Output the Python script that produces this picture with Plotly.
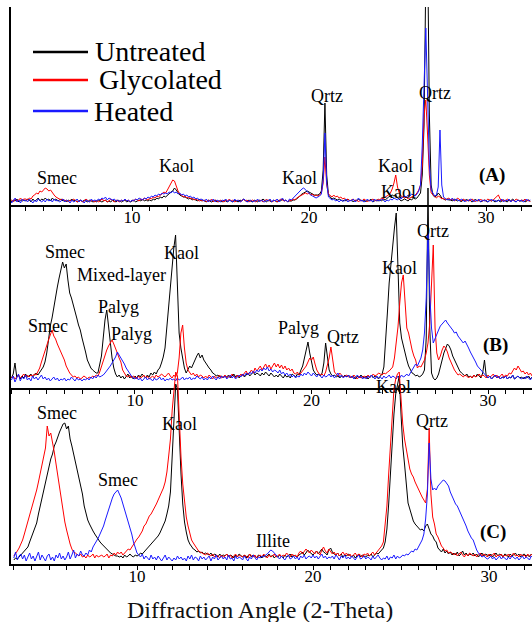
import numpy as np
import plotly.graph_objects as go

# 2-theta sampling grid (degrees), 0.1 deg step, 3.0 .. 32.5
two_theta = np.round(3.0 + 0.1 * np.arange(296), 1)

# ---------------- Panel (A) intensities (arbitrary units) ----------------
untreated_A = [
    4, 6, 3, 5, 4, 6, 3, 5, 4, 5,
    4, 6, 5, 3, 6, 4, 5, 7, 4, 6,
    5, 7, 5, 6, 4, 7, 5, 6, 4, 5,
    6, 4, 5, 3, 5, 4, 6, 4, 5, 3,
    4, 5, 3, 5, 4, 3, 5, 4, 3, 4,
    3, 5, 4, 3, 4, 5, 3, 4, 3, 5,
    4, 3, 5, 4, 3, 4, 5, 3, 4, 3,
    4, 5, 3, 4, 5, 4, 6, 4, 5, 4,
    5, 4, 6, 5, 7, 6, 8, 7, 9, 8,
    10, 11, 13, 14, 17, 15, 12, 10, 9, 8,
    8, 7, 6, 7, 5, 6, 5, 4, 6, 4,
    5, 4, 3, 5, 4, 3, 4, 5, 3, 4,
    4, 3, 5, 4, 3, 5, 4, 3, 5, 4,
    3, 5, 4, 6, 4, 3, 5, 4, 3, 5,
    4, 3, 5, 4, 6, 4, 3, 5, 4, 3,
    5, 4, 3, 5, 4, 6, 4, 5, 3, 4,
    4, 5, 5, 6, 8, 10, 11, 12, 13, 14,
    13, 12, 11, 10, 10, 10, 11, 14, 35, 102,
    30, 10, 8, 6, 7, 6, 5, 6, 5, 4,
    5, 4, 6, 4, 5, 3, 5, 4, 6, 5,
    4, 5, 3, 5, 4, 6, 3, 4, 5, 4,
    5, 4, 6, 5, 7, 8, 9, 10, 9, 10,
    7, 6, 4, 5, 6, 5, 4, 6, 5, 7,
    6, 7, 9, 12, 30, 80, 230, 260, 90, 20,
    10, 8, 9, 12, 10, 7, 6, 5, 6, 5,
    5, 4, 6, 5, 4, 5, 3, 5, 4, 6,
    4, 5, 3, 4, 6, 4, 5, 3, 4, 5,
    4, 3, 5, 4, 5, 3, 4, 5, 3, 4,
    5, 4, 3, 5, 4, 6, 4, 3, 5, 4,
    4, 5, 3, 4, 5, 4,
]
glycolated_A = [
    4, 6, 5, 3, 6, 4, 5, 7, 5, 6,
    6, 5, 7, 6, 9, 10, 12, 11, 14, 13,
    15, 17, 16, 14, 15, 12, 10, 8, 7, 6,
    5, 6, 4, 5, 3, 5, 4, 6, 4, 3,
    4, 5, 3, 4, 6, 4, 3, 5, 4, 3,
    5, 3, 4, 6, 4, 5, 3, 4, 6, 4,
    3, 5, 4, 3, 5, 4, 6, 4, 5, 3,
    5, 4, 6, 5, 4, 6, 5, 7, 6, 5,
    7, 6, 8, 7, 9, 8, 10, 11, 13, 12,
    15, 18, 22, 25, 24, 18, 14, 11, 10, 8,
    9, 7, 8, 6, 7, 5, 6, 5, 4, 5,
    4, 5, 3, 5, 4, 6, 3, 5, 4, 3,
    5, 4, 3, 5, 4, 6, 4, 5, 3, 4,
    5, 3, 4, 6, 4, 5, 3, 4, 5, 4,
    3, 5, 4, 5, 3, 4, 6, 4, 5, 3,
    4, 5, 3, 4, 6, 5, 4, 5, 3, 5,
    4, 6, 5, 7, 8, 9, 10, 11, 12, 11,
    12, 10, 11, 9, 10, 9, 10, 12, 22, 48,
    20, 11, 9, 8, 10, 8, 9, 7, 8, 6,
    7, 5, 6, 4, 5, 6, 4, 5, 3, 5,
    4, 6, 5, 3, 5, 4, 6, 5, 4, 6,
    5, 7, 6, 8, 9, 10, 12, 16, 22, 30,
    18, 12, 9, 8, 7, 8, 6, 7, 8, 9,
    10, 12, 15, 20, 40, 90, 105, 70, 30, 12,
    10, 8, 7, 9, 8, 6, 7, 5, 6, 7,
    5, 6, 4, 5, 7, 5, 4, 6, 5, 4,
    5, 4, 6, 5, 3, 5, 4, 6, 4, 5,
    4, 6, 5, 4, 5, 7, 8, 10, 6, 4,
    5, 4, 6, 5, 3, 5, 4, 6, 5, 4,
    5, 4, 6, 4, 5, 3,
]
heated_A = [
    3, 6, 2, 5, 7, 3, 5, 2, 6, 4,
    5, 3, 6, 4, 2, 5, 3, 6, 4, 3,
    5, 3, 6, 4, 5, 3, 6, 4, 5, 3,
    4, 6, 3, 5, 4, 2, 5, 3, 4, 6,
    3, 5, 4, 2, 5, 4, 3, 6, 4, 5,
    4, 6, 5, 7, 6, 8, 5, 7, 6, 5,
    6, 4, 5, 3, 5, 4, 6, 4, 5, 3,
    5, 4, 6, 5, 7, 6, 5, 7, 6, 8,
    7, 9, 8, 10, 9, 11, 10, 12, 11, 12,
    11, 13, 12, 14, 12, 13, 11, 12, 10, 11,
    9, 10, 8, 9, 7, 8, 6, 7, 5, 6,
    5, 4, 6, 3, 5, 4, 6, 3, 5, 4,
    3, 5, 4, 6, 3, 5, 4, 3, 6, 4,
    5, 3, 4, 6, 5, 3, 4, 5, 3, 4,
    4, 6, 3, 5, 4, 3, 5, 4, 6, 3,
    5, 4, 6, 3, 5, 7, 4, 5, 3, 6,
    5, 7, 8, 10, 12, 14, 16, 17, 15, 14,
    12, 10, 9, 8, 7, 8, 9, 11, 25, 72,
    22, 8, 6, 5, 6, 4, 5, 3, 5, 4,
    4, 6, 3, 5, 4, 6, 3, 5, 7, 4,
    5, 3, 4, 6, 4, 5, 3, 6, 4, 5,
    4, 6, 5, 3, 5, 4, 6, 5, 7, 6,
    5, 7, 6, 8, 9, 8, 10, 9, 11, 10,
    9, 11, 14, 20, 60, 120, 177, 110, 40, 15,
    12, 9, 10, 18, 75, 20, 8, 6, 5, 6,
    5, 7, 4, 6, 5, 4, 6, 5, 3, 5,
    4, 6, 5, 3, 5, 4, 6, 3, 5, 4,
    5, 3, 4, 6, 4, 5, 3, 5, 4, 6,
    3, 5, 4, 6, 3, 5, 4, 3, 5, 4,
    5, 3, 4, 6, 4, 5,
]

# ---------------- Panel (B) ----------------
untreated_B = [
    10, 14, 25, 11, 13, 9, 12, 10, 14, 11,
    12, 14, 11, 13, 15, 13, 16, 18, 21, 26,
    35, 48, 62, 70, 82, 92, 101, 110, 118, 126,
    120, 124, 108, 95, 90, 84, 76, 70, 63, 58,
    50, 44, 36, 28, 24, 20, 18, 16, 15, 15,
    22, 32, 50, 68, 78, 62, 45, 30, 20, 14,
    11, 13, 10, 12, 9, 11, 14, 10, 12, 9,
    12, 10, 13, 11, 14, 12, 10, 13, 11, 15,
    13, 16, 14, 18, 20, 25, 31, 40, 61, 85,
    100, 120, 140, 153, 95, 55, 40, 28, 20, 15,
    18, 22, 20, 25, 28, 32, 35, 30, 33, 28,
    25, 22, 20, 18, 15, 14, 12, 13, 11, 12,
    10, 12, 11, 13, 10, 12, 14, 11, 13, 10,
    12, 14, 11, 13, 15, 12, 14, 16, 13, 15,
    14, 12, 15, 13, 16, 14, 12, 15, 13, 11,
    13, 11, 14, 12, 10, 13, 11, 12, 10, 14,
    12, 11, 14, 13, 18, 22, 30, 38, 46, 35,
    25, 18, 15, 13, 14, 12, 15, 25, 45, 28,
    18, 14, 12, 13, 11, 12, 10, 12, 11, 13,
    11, 13, 10, 12, 11, 9, 12, 10, 13, 11,
    10, 12, 9, 11, 13, 10, 12, 11, 9, 12,
    14, 21, 45, 75, 105, 125, 145, 160, 175, 110,
    65, 50, 42, 35, 28, 22, 18, 15, 14, 12,
    13, 11, 12, 14, 18, 50, 200, 60, 15, 10,
    8, 10, 14, 20, 28, 35, 40, 44, 42, 38,
    32, 28, 24, 20, 17, 15, 13, 12, 14, 11,
    12, 10, 13, 11, 14, 12, 10, 15, 28, 12,
    10, 12, 9, 11, 13, 10, 12, 9, 11, 10,
    12, 9, 11, 10, 13, 9, 11, 12, 10, 11,
    9, 11, 10, 12, 9, 11,
]
glycolated_B = [
    10, 12, 9, 11, 13, 10, 12, 14, 11, 13,
    11, 13, 12, 14, 13, 16, 20, 26, 32, 38,
    42, 48, 53, 58, 52, 49, 44, 40, 37, 33,
    28, 22, 18, 15, 13, 11, 12, 10, 11, 9,
    10, 12, 11, 9, 11, 10, 12, 11, 13, 12,
    16, 22, 28, 33, 38, 42, 45, 48, 44, 40,
    35, 30, 26, 18, 15, 12, 11, 13, 10, 12,
    11, 9, 12, 10, 11, 13, 10, 12, 9, 11,
    12, 10, 13, 11, 12, 14, 12, 11, 13, 15,
    12, 10, 13, 11, 15, 30, 55, 63, 40, 25,
    18, 15, 13, 15, 12, 14, 11, 13, 12, 10,
    12, 10, 13, 11, 9, 12, 10, 11, 13, 10,
    11, 13, 10, 12, 11, 14, 12, 10, 13, 11,
    14, 12, 15, 17, 13, 16, 18, 15, 20, 17,
    19, 22, 18, 21, 24, 20, 23, 19, 22, 25,
    21, 24, 20, 23, 19, 22, 18, 20, 17, 19,
    15, 14, 16, 13, 15, 17, 19, 22, 26, 30,
    28, 31, 24, 18, 15, 13, 14, 12, 16, 22,
    30, 41, 26, 16, 14, 12, 15, 13, 11, 12,
    13, 11, 12, 10, 13, 11, 9, 12, 10, 11,
    12, 10, 13, 11, 12, 14, 12, 13, 15, 14,
    13, 15, 14, 16, 17, 19, 21, 30, 45, 61,
    85, 105, 113, 80, 60, 55, 45, 38, 32, 28,
    20, 22, 21, 25, 28, 35, 45, 65, 100, 143,
    60, 35, 28, 32, 38, 42, 40, 36, 30, 25,
    22, 18, 15, 13, 14, 12, 11, 13, 12, 10,
    12, 10, 13, 11, 12, 14, 11, 13, 12, 10,
    13, 11, 12, 14, 11, 13, 10, 12, 14, 11,
    13, 12, 15, 14, 17, 20, 18, 22, 19, 16,
    17, 14, 16, 13, 15, 12,
]
heated_B = [
    8, 12, 6, 10, 14, 7, 11, 9, 13, 8,
    10, 7, 12, 9, 11, 8, 10, 13, 9, 11,
    8, 10, 7, 9, 11, 8, 10, 7, 9, 8,
    10, 7, 9, 8, 11, 9, 7, 10, 8, 9,
    7, 9, 8, 10, 8, 11, 9, 12, 10, 13,
    11, 12, 13, 15, 17, 20, 22, 25, 28, 31,
    36, 33, 30, 28, 24, 20, 17, 14, 12, 10,
    9, 11, 8, 10, 7, 9, 11, 8, 10, 9,
    7, 10, 8, 9, 11, 8, 10, 7, 9, 8,
    10, 8, 9, 7, 10, 8, 9, 11, 8, 10,
    9, 11, 8, 10, 9, 12, 10, 9, 11, 8,
    10, 8, 11, 9, 12, 10, 8, 11, 9, 12,
    10, 12, 9, 11, 13, 10, 12, 9, 11, 13,
    11, 14, 12, 15, 13, 16, 14, 17, 15, 18,
    16, 19, 17, 20, 18, 21, 17, 19, 16, 18,
    17, 15, 18, 14, 16, 13, 15, 12, 14, 11,
    13, 10, 12, 11, 14, 12, 15, 13, 16, 14,
    12, 15, 13, 11, 14, 12, 10, 13, 11, 12,
    14, 11, 13, 10, 12, 15, 11, 13, 10, 12,
    11, 13, 10, 12, 9, 11, 13, 10, 12, 9,
    11, 9, 12, 10, 13, 11, 9, 12, 10, 11,
    9, 12, 10, 11, 13, 10, 12, 11, 9, 12,
    10, 13, 11, 12, 14, 12, 15, 17, 20, 24,
    22, 26, 30, 38, 55, 90, 158, 95, 60, 45,
    50, 55, 58, 62, 64, 66, 68, 65, 63, 60,
    58, 55, 56, 52, 50, 48, 45, 47, 44, 40,
    36, 33, 30, 26, 22, 20, 17, 15, 13, 12,
    10, 12, 9, 11, 13, 10, 12, 9, 11, 10,
    12, 9, 11, 10, 13, 9, 11, 12, 10, 9,
    11, 9, 12, 10, 8, 11,
]

# ---------------- Panel (C) ----------------
untreated_C = [
    4, 6, 5, 7, 8, 10, 12, 14, 17, 22,
    27, 32, 37, 41, 50, 58, 66, 74, 82, 90,
    98, 105, 110, 118, 122, 128, 132, 136, 140, 141,
    135, 138, 125, 118, 110, 100, 94, 85, 78, 70,
    58, 50, 44, 40, 36, 33, 30, 27, 24, 22,
    20, 18, 16, 14, 12, 11, 10, 9, 8, 8,
    7, 8, 6, 9, 7, 8, 10, 8, 7, 9,
    8, 9, 11, 10, 12, 13, 15, 18, 20, 22,
    24, 26, 28, 31, 35, 39, 43, 50, 58, 72,
    107, 140, 180, 175, 125, 90, 60, 42, 32, 24,
    20, 17, 15, 14, 12, 13, 11, 12, 10, 11,
    10, 9, 11, 8, 10, 9, 7, 10, 8, 9,
    8, 10, 7, 9, 8, 6, 9, 7, 10, 8,
    7, 9, 6, 8, 10, 7, 9, 8, 6, 9,
    8, 6, 9, 7, 8, 10, 7, 9, 6, 8,
    7, 9, 8, 6, 9, 7, 8, 10, 7, 9,
    8, 7, 9, 10, 12, 9, 11, 14, 12, 10,
    9, 11, 13, 10, 12, 15, 12, 11, 9, 14,
    16, 12, 10, 9, 11, 8, 10, 7, 9, 8,
    10, 8, 7, 9, 6, 8, 10, 7, 9, 8,
    7, 9, 8, 10, 7, 9, 11, 10, 12, 14,
    16, 22, 35, 60, 90, 124, 150, 170, 180, 188,
    150, 118, 100, 80, 61, 55, 48, 43, 40, 38,
    36, 34, 35, 33, 38, 40, 35, 30, 28, 24,
    22, 16, 14, 12, 15, 11, 13, 10, 12, 9,
    11, 9, 12, 8, 10, 13, 9, 11, 8, 10,
    9, 11, 8, 10, 7, 9, 11, 8, 10, 9,
    8, 10, 7, 9, 11, 8, 10, 9, 7, 10,
    9, 7, 10, 8, 9, 11, 8, 10, 7, 9,
    10, 8, 9, 7, 10, 8,
]
glycolated_C = [
    8, 10, 13, 16, 20, 24, 30, 36, 42, 48,
    55, 60, 66, 74, 82, 90, 98, 106, 116, 138,
    128, 131, 122, 112, 100, 88, 74, 62, 52, 42,
    34, 26, 20, 15, 12, 11, 9, 8, 10, 7,
    8, 6, 9, 7, 8, 10, 6, 9, 7, 8,
    9, 7, 8, 10, 6, 9, 8, 11, 9, 12,
    10, 12, 9, 11, 13, 15, 14, 17, 19, 22,
    25, 27, 30, 33, 38, 40, 44, 48, 50, 53,
    56, 60, 64, 68, 72, 76, 82, 92, 108, 125,
    154, 175, 192, 188, 140, 107, 80, 60, 47, 38,
    30, 24, 21, 18, 15, 13, 12, 11, 10, 9,
    11, 9, 8, 10, 7, 9, 8, 6, 9, 7,
    8, 10, 7, 9, 6, 8, 10, 7, 9, 8,
    7, 9, 8, 6, 10, 8, 7, 9, 6, 8,
    9, 7, 10, 8, 6, 9, 7, 8, 10, 7,
    8, 10, 7, 9, 8, 11, 9, 7, 10, 8,
    9, 7, 11, 13, 10, 12, 15, 13, 11, 14,
    12, 10, 13, 11, 9, 14, 17, 13, 11, 15,
    13, 10, 12, 9, 11, 8, 10, 12, 9, 11,
    8, 10, 7, 9, 11, 8, 10, 9, 7, 10,
    9, 11, 8, 10, 12, 9, 11, 13, 15, 18,
    22, 38, 58, 90, 120, 150, 175, 185, 190, 192,
    165, 140, 125, 114, 105, 95, 90, 87, 82, 78,
    74, 70, 67, 64, 61, 75, 136, 70, 47, 40,
    30, 27, 22, 18, 16, 13, 14, 11, 12, 11,
    9, 11, 8, 10, 12, 9, 7, 10, 8, 11,
    9, 8, 10, 7, 9, 11, 8, 10, 9, 7,
    10, 8, 9, 11, 7, 9, 8, 10, 7, 9,
    8, 10, 7, 9, 11, 8, 9, 7, 10, 8,
    9, 7, 10, 8, 9, 11,
]
heated_C = [
    6, 12, 4, 8, 10, 5, 9, 3, 7, 11,
    5, 8, 3, 7, 12, 4, 9, 6, 3, 8,
    10, 4, 7, 3, 9, 6, 11, 5, 8, 4,
    7, 12, 5, 9, 14, 6, 10, 8, 13, 9,
    8, 11, 9, 14, 12, 17, 20, 22, 26, 30,
    34, 38, 44, 50, 56, 60, 66, 70, 72, 74,
    70, 66, 60, 54, 48, 42, 37, 30, 22, 16,
    11, 9, 7, 10, 5, 8, 6, 4, 9, 5,
    7, 4, 8, 5, 3, 6, 9, 4, 7, 5,
    3, 6, 4, 8, 5, 7, 4, 6, 3, 8,
    5, 9, 4, 7, 6, 3, 8, 5, 7, 4,
    6, 8, 3, 7, 5, 9, 4, 6, 8, 5,
    7, 4, 9, 5, 6, 3, 8, 5, 7, 6,
    4, 8, 6, 3, 7, 5, 9, 6, 4, 7,
    6, 8, 7, 9, 10, 12, 14, 13, 11, 8,
    7, 5, 8, 6, 4, 7, 9, 5, 6, 8,
    5, 7, 4, 8, 6, 9, 5, 7, 8, 6,
    9, 6, 8, 5, 7, 10, 6, 8, 5, 7,
    6, 8, 5, 9, 7, 4, 8, 6, 9, 5,
    7, 5, 8, 6, 4, 7, 9, 5, 6, 8,
    5, 7, 6, 4, 8, 5, 7, 9, 6, 4,
    6, 5, 8, 4, 7, 6, 9, 5, 8, 6,
    7, 9, 8, 10, 9, 11, 13, 12, 15, 14,
    17, 20, 24, 30, 45, 70, 121, 85, 74, 76,
    74, 78, 80, 82, 84, 83, 81, 78, 72, 67,
    64, 60, 58, 54, 50, 47, 42, 38, 33, 29,
    26, 24, 18, 14, 11, 9, 7, 8, 6, 5,
    6, 8, 5, 7, 4, 6, 8, 5, 7, 6,
    4, 7, 5, 8, 6, 5, 7, 4, 6, 8,
    5, 7, 6, 4, 8, 6,
]

series_names = ["Untreated", "Glycolated", "Heated"]
series_colors = ["#000000", "#ff0000", "#1a1aff"]
tick_values = list(range(3, 33))
tick_labels = [str(v) if v in (10, 20, 30) else "" for v in tick_values]

# peak labels: (panel, text, 2-theta, intensity)
peak_labels = [
    ("A", "Smec", 5.76, 27), ("A", "Kaol", 12.49, 39), ("A", "Kaol", 19.44, 27),
    ("A", "Qrtz", 21.02, 109), ("A", "Kaol", 24.86, 39), ("A", "Kaol", 25.08, 13),
    ("A", "Qrtz", 27.12, 112),
    ("B", "Smec", 6.03, 136), ("B", "Mixed-layer", 9.26, 113), ("B", "Palyg", 9.04, 81),
    ("B", "Smec", 5.07, 62), ("B", "Palyg", 9.83, 54), ("B", "Kaol", 12.66, 135),
    ("B", "Palyg", 19.29, 60), ("B", "Qrtz", 21.78, 51), ("B", "Kaol", 24.96, 120),
    ("B", "Qrtz", 26.88, 157),
    ("C", "Smec", 5.45, 151), ("C", "Smec", 8.92, 84), ("C", "Kaol", 12.44, 140),
    ("C", "Illite", 17.73, 23), ("C", "Qrtz", 26.76, 143), ("C", "Kaol", 24.55, 177),
]
panel_tags = [("A", "(A)", 30.34, 30), ("B", "(B)", 30.45, 43), ("C", "(C)", 30.23, 32)]

FONT = "Liberation Serif"
W, H = 532, 622
ML, MR, MT, MB = 11, 0, 7, 58
PW, PH = W - ML - MR, H - MT - MB


def px_x(px):
    return (px - ML) / PW


def px_y(py):
    return (H - MB - py) / PH


panels = {
    "A": dict(xa="x", ya="y", xr=[3.164, 32.599], dom=[px_y(205), 1.0], yr=[0, 198],
              data=[untreated_A, glycolated_A, heated_A]),
    "B": dict(xa="x2", ya="y2", xr=[2.975, 32.493], dom=[px_y(388), 1.0], yr=[0, 381],
              data=[untreated_B, glycolated_B, heated_B]),
    "C": dict(xa="x3", ya="y3", xr=[2.841, 32.443], dom=[0.0, 1.0], yr=[0, 557],
              data=[untreated_C, glycolated_C, heated_C]),
}

fig = go.Figure()
for key, p in panels.items():
    for vals, name, col in zip(p["data"], series_names, series_colors):
        assert len(vals) == len(two_theta), (key, name, len(vals))
        fig.add_trace(go.Scatter(
            x=two_theta, y=vals, mode="lines", name=name,
            line=dict(color=col, width=1), xaxis=p["xa"], yaxis=p["ya"],
            showlegend=False, hoverinfo="skip"))

xcommon = dict(tickmode="array", tickvals=tick_values, ticktext=tick_labels,
               ticks="outside", ticklen=4, tickwidth=1, tickcolor="black",
               ticklabelstandoff=-8,
               showline=True, linecolor="black", linewidth=1.5,
               showgrid=False, zeroline=False,
               tickfont=dict(family=FONT, size=17, color="black"))

layout = dict(width=W, height=H, margin=dict(l=ML, r=MR, t=MT, b=MB),
              paper_bgcolor="white", plot_bgcolor="rgba(0,0,0,0)", showlegend=False)
for i, (key, p) in enumerate(panels.items()):
    xname = "xaxis" if i == 0 else f"xaxis{i + 1}"
    yname = "yaxis" if i == 0 else f"yaxis{i + 1}"
    layout[xname] = dict(xcommon, range=p["xr"], domain=[0, 1], anchor=p["ya"])
    ydict = dict(range=p["yr"], domain=p["dom"], anchor=p["xa"], showgrid=False,
                 zeroline=False, showticklabels=False, ticks="")
    if key == "C":
        ydict.update(showline=True, linecolor="black", linewidth=1.5)
    else:
        ydict.update(showline=False)
    layout[yname] = ydict
fig.update_layout(**layout)

annotations = []
for key, text, x, y in peak_labels:
    p = panels[key]
    annotations.append(dict(x=x, y=y, xref=p["xa"], yref=p["ya"], text=text,
                            showarrow=False, font=dict(family=FONT, size=18, color="black")))
for key, text, x, y in panel_tags:
    p = panels[key]
    annotations.append(dict(x=x, y=y, xref=p["xa"], yref=p["ya"], text=f"<b>{text}</b>",
                            showarrow=False, font=dict(family=FONT, size=19, color="black")))

# legend (top-left, inside panel A)
legend_rows = [(52, 93), (80, 97), (111, 92)]
shapes = []
for (ly, tx), name, col in zip(legend_rows, series_names, series_colors):
    shapes.append(dict(type="line", xref="paper", yref="paper",
                       x0=px_x(33), x1=px_x(88), y0=px_y(ly), y1=px_y(ly),
                       line=dict(color=col, width=2.5)))
    annotations.append(dict(x=px_x(tx), y=px_y(ly), xref="paper", yref="paper",
                            text=name, showarrow=False, xanchor="left", yanchor="middle",
                            font=dict(family=FONT, size=28, color="black")))

# axis title: top edge of its box placed just below the tick labels
annotations.append(dict(x=px_x(260), y=px_y(596), xref="paper", yref="paper",
                        text="Diffraction Angle (2-Theta)", showarrow=False,
                        yanchor="top", borderpad=0,
                        font=dict(family=FONT, size=24, color="#111111")))
fig.update_layout(annotations=annotations, shapes=shapes)

fig.write_html("out.html", config={"displayModeBar": False},
               post_script="document.body.style.margin='0px';document.body.style.overflow='hidden';")
